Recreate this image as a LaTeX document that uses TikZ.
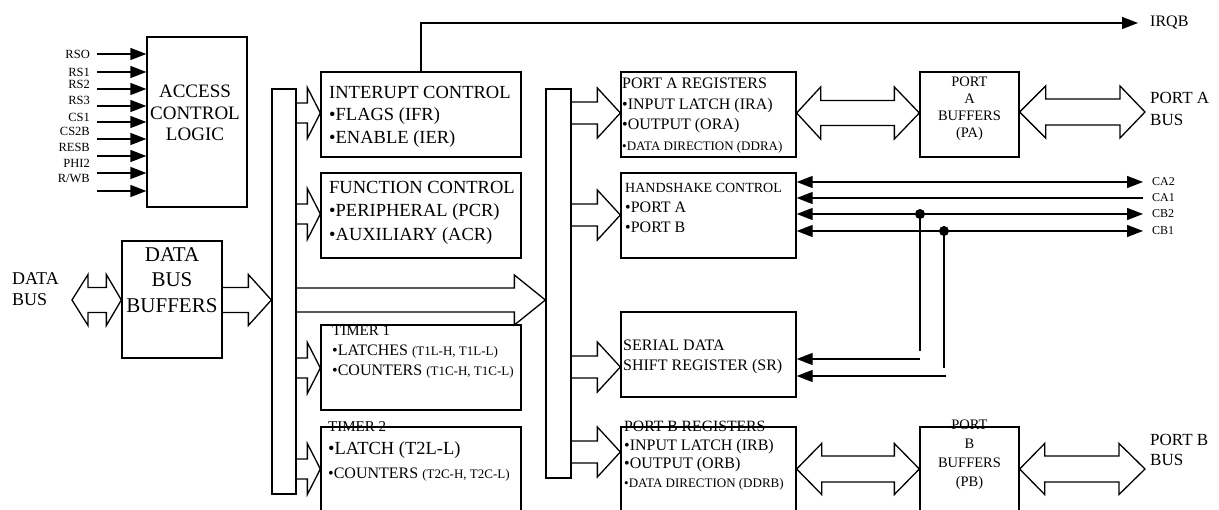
\documentclass[tikz,border=0pt]{standalone}
\usepackage{fontspec}
\setmainfont{Liberation Serif}
\usetikzlibrary{arrows.meta,calc}

\tikzset{
  blk/.style={draw, line width=1.3pt, inner sep=0pt},
  sig/.style={line width=1.3pt},
  fat/.style={draw, line width=1.3pt, line join=miter},
  btxt/.style={inner sep=0pt, anchor=north west, align=left},
  lbl/.style={inner sep=0pt, font=\fontsize{12.5}{14}\selectfont},
}
% hollow bus arrow: from, to, y, shaft half width, head half width, head length
\newcommand{\busarrow}[6]{%
  \draw[fat] let \p1=(#1 |- 0,#3), \p2=(#2 |- 0,#3) in
    (\x1,\y1+#4pt) -- (\x2-#6pt,\y1+#4pt) -- (\x2-#6pt,\y1+#5pt) -- (\x2,\y1)
    -- (\x2-#6pt,\y1-#5pt) -- (\x2-#6pt,\y1-#4pt) -- (\x1,\y1-#4pt);}
% hollow two-way bus arrow: from, to, y, shaft, head, left head length, right head length
\newcommand{\busdarrow}[7]{%
  \draw[fat] let \p1=(#1 |- 0,#3), \p2=(#2 |- 0,#3) in
    (\x1,\y1) -- (\x1+#6pt,\y1+#5pt) -- (\x1+#6pt,\y1+#4pt) -- (\x2-#7pt,\y1+#4pt)
    -- (\x2-#7pt,\y1+#5pt) -- (\x2,\y1) -- (\x2-#7pt,\y1-#5pt) -- (\x2-#7pt,\y1-#4pt)
    -- (\x1+#6pt,\y1-#4pt) -- (\x1+#6pt,\y1-#5pt) -- cycle;}

\begin{document}
\begin{tikzpicture}[x=1pt, y=-1pt, >={Triangle[length=16pt,width=12pt]}]
\useasboundingbox (0,0) rectangle (1219,510);

% blocks
\node[blk, minimum width=100pt, minimum height=170pt] (acl) at (197,122) {};
\node[blk, minimum width=100pt, minimum height=117pt] (dbb) at (172,299.5) {};
\node[blk, minimum width=24pt, minimum height=405pt] (lbus) at (284,291.5) {};
\node[blk, minimum width=25pt, minimum height=389pt] (rbus) at (558.5,283.5) {};
\node[blk, minimum width=200pt, minimum height=85pt] (ic) at (421,114.5) {};
\node[blk, minimum width=200pt, minimum height=85pt] (fc) at (421,215.5) {};
\node[blk, minimum width=200pt, minimum height=85pt] (t1) at (421,367.5) {};
\node[blk, minimum width=200pt, minimum height=85pt] (t2) at (421,469.5) {};
\node[blk, minimum width=175pt, minimum height=85pt] (pa) at (708.5,114.5) {};
\node[blk, minimum width=175pt, minimum height=85pt] (hs) at (708.5,215.5) {};
\node[blk, minimum width=175pt, minimum height=85pt] (sr) at (708.5,354.5) {};
\node[blk, minimum width=175pt, minimum height=85pt] (pb) at (708.5,469.5) {};
\node[blk, minimum width=99pt, minimum height=85pt] (pab) at (969.5,114.5) {};
\node[blk, minimum width=99pt, minimum height=85pt] (pbb) at (969.5,469.5) {};

% block texts
\node[btxt, anchor=north, align=center, font=\fontsize{19}{21.5}\selectfont] (acltxt) at (195,85) {ACCESS\\CONTROL\\LOGIC};
\node[btxt, anchor=north, align=center, font=\fontsize{21}{25.5}\selectfont] (dbbtxt) at (172,247) {DATA\\BUS\\BUFFERS};
\node[btxt, font=\fontsize{18.5}{22.5}\selectfont] (ictxt) at (329,86) {INTERUPT CONTROL\\•FLAGS (IFR)\\•ENABLE (IER)};
\node[btxt, font=\fontsize{18.5}{23.5}\selectfont] (fctxt) at (329,181) {FUNCTION CONTROL\\•PERIPHERAL (PCR)\\•AUXILIARY (ACR)};
\node[btxt, font=\fontsize{16}{20}\selectfont] (t1txt) at (332,325) {{\fontsize{15}{20}\selectfont TIMER 1}\\•LATCHES {\fontsize{13}{20}\selectfont (T1L-H, T1L-L)}\\•COUNTERS {\fontsize{13}{20}\selectfont (T1C-H, T1C-L)}};
\node[btxt, font=\fontsize{16}{23.5}\selectfont] (t2txt) at (328,421) {{\fontsize{15}{23.5}\selectfont TIMER 2}\\{\fontsize{18.5}{23.5}\selectfont •LATCH (T2L-L)}\\•COUNTERS {\fontsize{13}{23.5}\selectfont (T2C-H, T2C-L)}};
\node[btxt, font=\fontsize{16}{20.5}\selectfont] (patxt) at (622,78) {PORT A REGISTERS\\•INPUT LATCH (IRA)\\•OUTPUT (ORA)\\{\fontsize{13}{20.5}\selectfont •DATA DIRECTION (DDRA)}};
\node[btxt, font=\fontsize{16}{20}\selectfont] (hstxt) at (625,183.4) {{\fontsize{14}{20}\selectfont HANDSHAKE CONTROL}\\•PORT A\\•PORT B};
\node[btxt, font=\fontsize{16}{20}\selectfont] (srtxt) at (623,339.7) {SERIAL DATA\\SHIFT REGISTER (SR)};
\node[btxt, font=\fontsize{16}{18.7}\selectfont] (pbtxt) at (624,421) {{\fontsize{15.7}{18.7}\selectfont PORT B REGISTERS}\\•INPUT LATCH (IRB)\\•OUTPUT (ORB)\\{\fontsize{13}{18.7}\selectfont •DATA DIRECTION (DDRB)}};
\node[btxt, anchor=north, align=center, font=\fontsize{14.5}{17}\selectfont] (pabtxt) at (969.5,77) {PORT\\A\\BUFFERS\\(PA)};
\node[btxt, anchor=north, align=center, font=\fontsize{14.5}{19}\selectfont] (pbbtxt) at (969.5,420) {PORT\\B\\BUFFERS\\(PB)};

% outside labels
\node[btxt, font=\fontsize{18}{21}\selectfont] (dbus) at (12,272) {DATA\\BUS};
\node[btxt, font=\fontsize{17}{22}\selectfont] (pabus) at (1150,92.5) {PORT A\\BUS};
\node[btxt, font=\fontsize{17}{20}\selectfont] (pbbus) at (1150,434.4) {PORT B\\BUS};
\node[inner sep=0pt, anchor=west, font=\fontsize{16}{18}\selectfont] (irqb) at (1150,23) {IRQB};
\foreach \y/\t [count=\i] in {54/RSO,72/RS1,84/RS2,100/RS3,117/CS1,131/CS2B,147/RESB,163/PHI2,178/{R/WB}}
  \node[lbl, anchor=east] (in\i) at (90,\y) {\t};
\node[lbl, anchor=west, font=\fontsize{12}{14}\selectfont] (ca2) at (1152,182) {CA2};
\node[lbl, anchor=west, font=\fontsize{12}{14}\selectfont] (ca1) at (1152,198) {CA1};
\node[lbl, anchor=west, font=\fontsize{12}{14}\selectfont] (cb2) at (1152,214) {CB2};
\node[lbl, anchor=west, font=\fontsize{12}{14}\selectfont] (cb1) at (1152,231) {CB1};

% control inputs
\foreach \y in {54,72,89,106,122,139,156,173,191}
  \draw[sig,->] (97,\y) -- (acl.west |- 0,\y);

% irq output
\draw[sig,->] (ic.north) |- ([xshift=-12pt]irqb.west);

% handshake lines
\draw[sig,<->] (hs.east |- ca2) -- ([xshift=-9pt]ca2.west);
\draw[sig,<-] (hs.east |- ca1) -- ([xshift=-9pt]ca1.west);
\draw[sig,<->] (hs.east |- cb2) -- ([xshift=-9pt]cb2.west);
\draw[sig,<->] (hs.east |- cb1) -- ([xshift=-9pt]cb1.west);
\coordinate (j1) at (920,214);
\coordinate (j2) at (944,231);
\coordinate (e1) at (920,351);
\coordinate (e2) at (944,368);
\coordinate (s1) at (920,359);
\coordinate (s2) at (946,376);
\fill (j1) circle[radius=5pt];
\fill (j2) circle[radius=5pt];
\draw[sig] (j1) -- (e1);
\draw[sig] (j2) -- (e2);
\draw[sig,->] (s1) -- (sr.east |- s1);
\draw[sig,->] (s2) -- (sr.east |- s2);

% data buses
\coordinate (dtip) at (72,300);
\coordinate (patip) at (1145,112);
\coordinate (pbtip) at (1145,469);
\busdarrow{dtip}{dbb.west}{300}{12.5}{25.5}{16}{15}
\busarrow{dbb.east}{lbus.west}{300}{12.5}{25.5}{23}
\busarrow{lbus.east}{rbus.west}{300}{12}{25}{31}
\busarrow{lbus.east}{ic.west}{113}{10}{25.5}{13}
\busarrow{lbus.east}{fc.west}{214}{10}{25.5}{13}
\busarrow{lbus.east}{t1.west}{368}{10}{25.5}{13}
\busarrow{lbus.east}{t2.west}{469}{10}{25.5}{13}
\busarrow{rbus.east}{pa.west}{113}{11}{25}{23}
\busarrow{rbus.east}{hs.west}{215}{11}{25}{23}
\busarrow{rbus.east}{sr.west}{367}{11}{25}{23}
\busarrow{rbus.east}{pb.west}{452}{11}{25}{23}
\busdarrow{pa.east}{pab.west}{113}{12.5}{26}{24}{25}
\busdarrow{pab.east}{patip}{112}{13}{26}{26}{25}
\busdarrow{pb.east}{pbb.west}{469}{13}{25.5}{25}{25}
\busdarrow{pbb.east}{pbtip}{469}{13}{25.5}{25}{26}
\end{tikzpicture}
\end{document}
